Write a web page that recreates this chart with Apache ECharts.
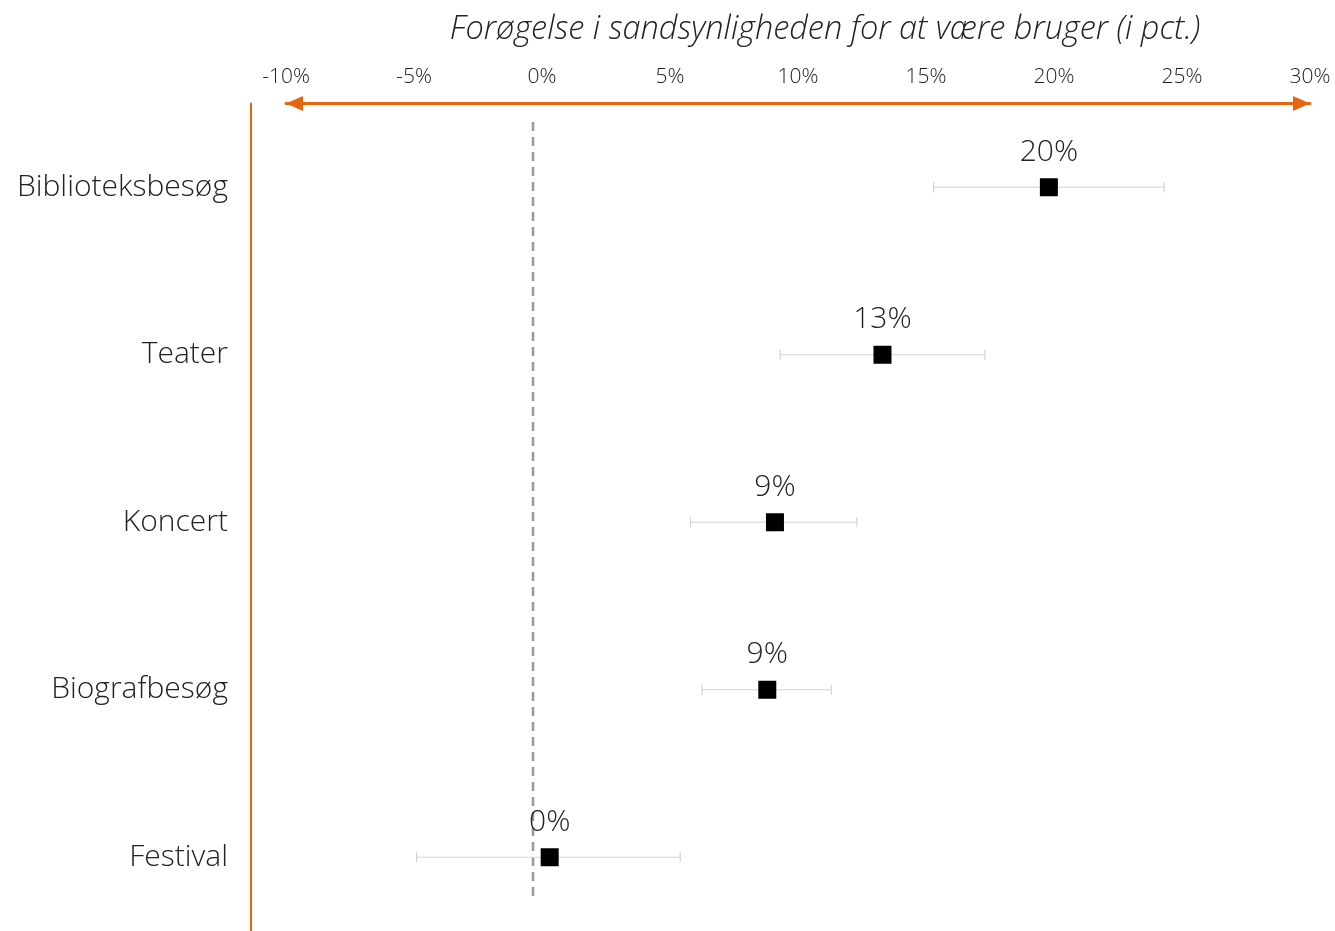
<!DOCTYPE html>
<html>
<head>
<meta charset="utf-8">
<script src="https://cdn.jsdelivr.net/npm/echarts@6/dist/echarts.min.js"></script>
<style>
html,body{margin:0;padding:0;background:#fff;}
#chart{width:1335px;height:931px;}
</style>
</head>
<body>
<div id="chart"></div>
<script>
// Data
var categories = ['Biblioteksbesøg', 'Teater', 'Koncert', 'Biografbesøg', 'Festival'];
var estimates = [19.8, 13.3, 9.1, 8.8, 0.3];
var lowerCI = [15.3, 9.3, 5.8, 6.25, -4.9];
var upperCI = [24.3, 17.3, 12.3, 11.3, 5.4];
var referenceValue = [-0.35];
var axisTitle = 'Forøgelse i sandsynligheden for at være bruger (i pct.)';

var FONT = 'Open Sans';
var ORANGE = '#E8650F';
var TEXT = '#222222';

var chart = echarts.init(document.getElementById('chart'));

var errData = categories.map(function (c, i) { return [lowerCI[i], upperCI[i], i]; });
var pointData = categories.map(function (c, i) { return [estimates[i], i]; });

var option = {
  backgroundColor: '#ffffff',
  animation: false,
  textStyle: { fontFamily: FONT },
  grid: { left: 286, right: 25, top: 103.5, height: 837.5, containLabel: false, outerBoundsMode: 'none' },
  xAxis: {
    type: 'value',
    position: 'top',
    min: -10, max: 30, interval: 5,
    name: axisTitle,
    nameLocation: 'middle',
    nameGap: 57,
    nameTextStyle: { fontFamily: FONT, fontSize: 32.5, fontStyle: 'italic', fontWeight: 300, color: TEXT, padding: [0, 0, 0, 54] },
    axisLine: {
      show: true,
      onZero: false,
      lineStyle: { color: ORANGE, width: 3 },
      symbol: ['triangle', 'triangle'],
      symbolSize: [15, 17],
      symbolOffset: [8.5, -8.5]
    },
    axisTick: { show: false },
    splitLine: { show: false },
    axisLabel: {
      margin: 16,
      fontFamily: FONT, fontSize: 21, fontWeight: 300, color: TEXT,
      formatter: function (v) { return v + '%'; }
    }
  },
  yAxis: {
    type: 'category',
    data: categories,
    inverse: true,
    offset: 35,
    axisLine: { show: true, onZero: false, lineStyle: { color: ORANGE, width: 2 } },
    axisTick: { show: false },
    splitLine: { show: false },
    axisLabel: { margin: 23, fontFamily: FONT, fontSize: 30, fontWeight: 300, color: TEXT }
  },
  series: [
    {
      type: 'custom',
      name: 'ref',
      data: referenceValue.map(function (v) { return [v]; }),
      silent: true,
      z: 1,
      renderItem: function (params, api) {
        var x = api.value(0);
        var p0 = api.coord([x, 0]);
        var p4 = api.coord([x, categories.length - 1]);
        var band = api.size([0, 1])[1];
        return {
          type: 'line',
          shape: { x1: p0[0], y1: p0[1] - band * 0.39, x2: p4[0], y2: p4[1] + band * 0.24 },
          style: { stroke: '#999999', lineWidth: 2.5, lineDash: [9, 6] }
        };
      }
    },
    {
      type: 'custom',
      name: 'ci',
      data: errData,
      silent: true,
      z: 2,
      renderItem: function (params, api) {
        var lo = api.coord([api.value(0), api.value(2)]);
        var hi = api.coord([api.value(1), api.value(2)]);
        var cap = 5;
        var st = { stroke: '#d2d2da', lineWidth: 1.2 };
        return {
          type: 'group',
          children: [
            { type: 'line', shape: { x1: lo[0], y1: lo[1], x2: hi[0], y2: hi[1] }, style: st },
            { type: 'line', shape: { x1: lo[0], y1: lo[1] - cap, x2: lo[0], y2: lo[1] + cap }, style: st },
            { type: 'line', shape: { x1: hi[0], y1: hi[1] - cap, x2: hi[0], y2: hi[1] + cap }, style: st }
          ]
        };
      }
    },
    {
      type: 'scatter',
      name: 'est',
      data: pointData,
      symbol: 'rect',
      symbolSize: 18,
      z: 3,
      itemStyle: { color: '#000000', opacity: 1 },
      label: {
        show: true,
        position: 'top',
        distance: 11,
        fontFamily: FONT, fontSize: 30, fontWeight: 300, color: TEXT,
        formatter: function (p) { return Math.round(p.value[0]) + '%'; }
      }
    }
  ]
};
chart.setOption(option);
</script>
</body>
</html>
